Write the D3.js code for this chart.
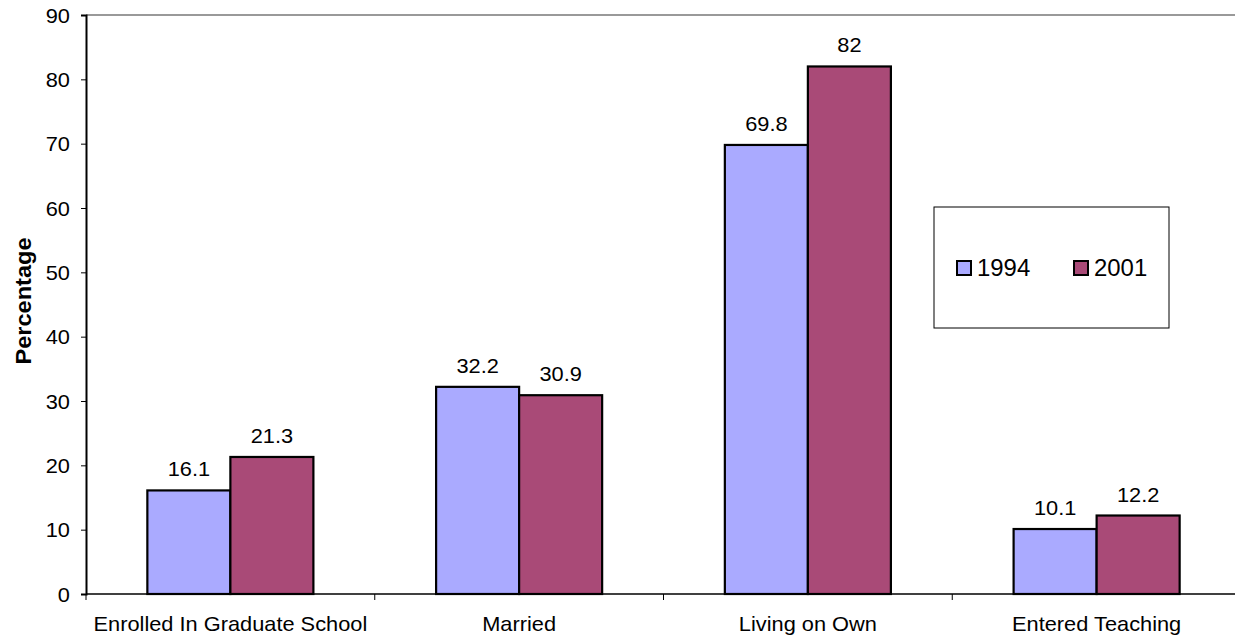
<!DOCTYPE html>
<html><head><meta charset="utf-8">
<script src="https://cdn.jsdelivr.net/npm/d3@7"></script>
<style>body{margin:0;background:#fff}svg{display:block}text{font-family:"Liberation Sans",Arial,sans-serif}</style>
</head><body><svg id="c" width="1235" height="641"></svg>
<script>
const categories = ["Enrolled In Graduate School","Married","Living on Own","Entered Teaching"];
const seriesNames = ["1994","2001"];
const values1994 = [16.1,32.2,69.8,10.1];
const values2001 = [21.3,30.9,82,12.2];
const yTicks = [0,10,20,30,40,50,60,70,80,90];
const colors = ["#AAAAFF","#A94A77"];

const svg = d3.select("#c");
const L=86, R=1241, T=15, B=594;
const SX = 1.09; // horizontal stretch of the reference's text
const x = d3.scaleBand().domain(categories).range([L,R]).paddingInner(0).paddingOuter(0);
const inner = d3.scaleBand().domain(seriesNames).range([0,x.bandwidth()]).paddingInner(0).paddingOuter(0.739);
const y = d3.scaleLinear().domain([0,90]).range([B,T]);
const series=[values1994,values2001];

// top border
svg.append("line").attr("x1",L).attr("x2",1235).attr("y1",T).attr("y2",T).attr("stroke","#999").attr("stroke-width",2);

// bars
seriesNames.forEach((s,si)=>{
  svg.append("g").selectAll("rect").data(categories).join("rect")
    .attr("x",c=>x(c)+inner(s)).attr("width",inner.bandwidth())
    .attr("y",(c,i)=>y(series[si][i])).attr("height",(c,i)=>B-y(series[si][i]))
    .attr("fill",colors[si]).attr("stroke","#000").attr("stroke-width",2.2);
  svg.append("g").selectAll("text").data(categories).join("text")
    .attr("transform",(c,i)=>`translate(${x(c)+inner(s)+inner.bandwidth()/2},${y(series[si][i])-14}) scale(${SX},1)`)
    .attr("text-anchor","middle").attr("font-size",20).attr("fill","#000")
    .text((c,i)=>series[si][i]);
});

// y axis
const ya = svg.append("g").attr("transform",`translate(${L},0)`)
  .call(d3.axisLeft(y).tickValues(yTicks).tickSize(5).tickPadding(6));
ya.select(".domain").attr("stroke","#000").attr("stroke-width",2);
ya.selectAll(".tick line").attr("stroke","#000");
ya.selectAll(".tick text").attr("font-size",20).attr("fill","#000").attr("font-family","Liberation Sans, Arial, sans-serif")
  .attr("dy","0.35em").attr("x",0).attr("transform",`translate(-16,0) scale(${SX},1)`);

// x axis
svg.append("line").attr("x1",L).attr("x2",1235).attr("y1",B).attr("y2",B).attr("stroke","#000").attr("stroke-width",1.5);
svg.append("g").selectAll("line").data(categories).join("line")
  .attr("x1",c=>x(c)).attr("x2",c=>x(c)).attr("y1",B).attr("y2",B+6).attr("stroke","#000");
svg.append("g").selectAll("text").data(categories).join("text")
  .attr("transform",c=>`translate(${x(c)+x.bandwidth()/2},631) scale(${SX},1)`)
  .attr("text-anchor","middle").attr("font-size",20).attr("fill","#000").text(c=>c);

// y title
svg.append("text").attr("transform","translate(31,301) rotate(-90)")
  .attr("text-anchor","middle").attr("font-size",22).attr("font-weight","bold")
  .attr("textLength",127).attr("lengthAdjust","spacingAndGlyphs").text("Percentage");

// legend
const lg = svg.append("g");
lg.append("rect").attr("x",934).attr("y",207).attr("width",235).attr("height",121)
  .attr("fill","#fff").attr("stroke","#000").attr("stroke-width",1);
const lx=[957,1074];
seriesNames.forEach((s,i)=>{
  lg.append("rect").attr("x",lx[i]).attr("y",261).attr("width",14).attr("height",14)
    .attr("fill",colors[i]).attr("stroke","#000").attr("stroke-width",2);
  lg.append("text").attr("transform",`translate(${lx[i]+20},276) scale(1.04,1)`)
    .attr("font-size",23).attr("fill","#000").text(s);
});
</script></body></html>
